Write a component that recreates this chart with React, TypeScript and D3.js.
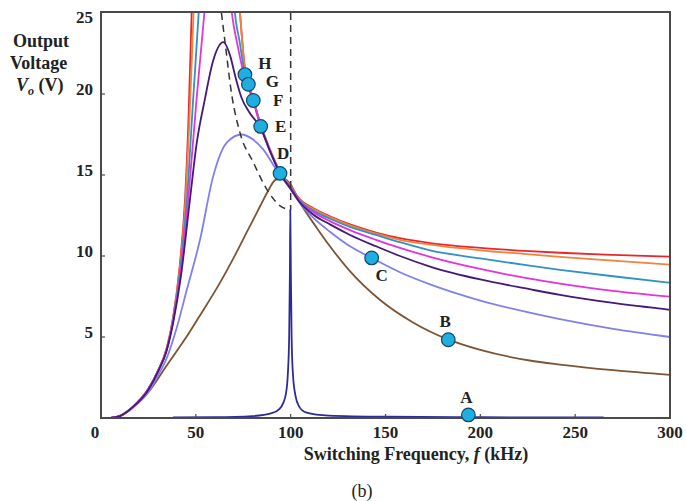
import React from "react";
import * as d3 from "d3";

// ---------- data (kHz, V) ----------
const xTicks = [0, 50, 100, 150, 200, 250, 300];
const yTicks = [5, 10, 15, 20, 25];

const curveRed: [number, number][] = [
  [5, 0], [10, 0.12], [17, 0.7], [25, 1.8], [30, 2.9], [34.6, 4.3], [38, 6.2], [41.5, 9.4], [44.3, 13.5],
  [46, 18], [47.8, 25], [51, 36], [58, 60], [66, 40], [73.3, 25], [75.9, 21.6], [77.7, 20.7], [80.3, 19.7],
  [84.2, 18.1], [89, 16.6], [94.4, 15.2], [100, 14.3], [104.9, 13.5], [112, 12.95], [120.7, 12.45],
  [131.3, 11.95], [145, 11.45], [157.6, 11.1], [173.5, 10.8], [200, 10.5], [226, 10.3], [242, 10.2],
  [270, 10.07], [300, 9.96],
];
const curveOrange: [number, number][] = [
  [5, 0], [10, 0.12], [17, 0.7], [25, 1.8], [30, 2.9], [34.6, 4.25], [38, 6.15], [41.6, 9.3], [44.6, 13.5],
  [46.5, 18], [48.8, 25], [53, 38], [60, 50], [67, 38], [73.3, 25], [75.9, 21.5], [77.7, 20.65],
  [80.3, 19.65], [84.2, 18.1], [89, 16.6], [94.4, 15.2], [100, 14.3], [104.9, 13.45], [112, 12.9],
  [120.7, 12.4], [131.3, 11.9], [145, 11.38], [157.6, 11.0], [173.5, 10.7], [200, 10.35], [226, 10.1],
  [242, 9.95], [270, 9.72], [300, 9.47],
];
const curveTeal: [number, number][] = [
  [5, 0], [10, 0.12], [17, 0.7], [25, 1.8], [30, 2.9], [34.6, 4.2], [38, 6.1], [41.8, 9.2], [45.3, 13.5],
  [48.6, 19.7], [51.5, 25], [56, 35], [62, 45], [66, 36], [70.6, 25], [73, 23.3], [75.9, 21.2],
  [77.7, 20.5], [80.3, 19.6], [84.2, 18.05], [89, 16.55], [94.4, 15.15], [100, 14.25], [104.9, 13.4],
  [112, 12.8], [120.7, 12.3], [131.3, 11.8], [145, 11.3], [157.6, 10.85], [173.5, 10.35], [200, 9.85],
  [226, 9.4], [242, 9.15], [270, 8.75], [300, 8.35],
];
const curveMagenta: [number, number][] = [
  [5, 0], [10, 0.12], [17, 0.7], [25, 1.8], [30, 2.9], [34.6, 4.2], [38, 6.0], [42, 9.0], [46, 13.5],
  [50.4, 19.7], [54.5, 25], [59, 30], [63, 32], [66, 29], [69, 25], [72, 23.0], [75.9, 21.0], [77.7, 20.4],
  [80.3, 19.5], [84.2, 18.0], [89, 16.5], [94.4, 15.1], [100, 14.2], [104.9, 13.35], [112, 12.7],
  [120.7, 12.15], [131.3, 11.6], [145, 11.0], [157.6, 10.5], [173.5, 9.95], [200, 9.2], [226, 8.6],
  [242, 8.3], [270, 7.85], [300, 7.49],
];
const curvePurple: [number, number][] = [
  [5, 0], [10, 0.12], [17, 0.7], [25, 1.75], [30, 2.85], [34.6, 4.15], [38, 5.85], [42.2, 8.8], [46.9, 13.5],
  [50.5, 17], [54.8, 19.7], [59, 22.0], [64.5, 23.2], [68, 22.4], [71, 21.0], [74, 19.8], [78, 18.9],
  [84.2, 17.9], [89, 16.5], [94.4, 15.1], [100, 14.15], [104.9, 13.3], [112, 12.55], [120.7, 11.95],
  [131.3, 11.3], [145, 10.6], [157.6, 10.0], [173.5, 9.35], [200, 8.55], [226, 7.95], [242, 7.6],
  [270, 7.1], [300, 6.68],
];
const curvePeriwinkle: [number, number][] = [
  [5, 0], [10, 0.12], [17, 0.65], [25, 1.6], [30, 2.6], [35, 3.8], [40, 5.6], [45.2, 7.9], [52.2, 11.0],
  [59.1, 14.9], [66.3, 17.0], [74.2, 17.5], [80, 17.2], [85.4, 16.6], [92.6, 15.3], [100, 14.1],
  [105, 13.25], [112, 12.35], [120.7, 11.5], [131.3, 10.6], [142.7, 9.88], [157.6, 9.0], [173.5, 8.25],
  [200, 7.25], [226, 6.5], [242, 6.1], [270, 5.5], [300, 5.0],
];
const curveBrown: [number, number][] = [
  [5, 0], [10, 0.15], [17, 0.7], [25, 1.6], [35, 3.3], [45, 5.0], [52, 6.3], [62, 8.2], [70, 9.9],
  [77, 11.5], [84, 13.1], [88, 14.0], [92, 14.7], [96, 14.8], [100, 14.4], [104.9, 13.3], [113.7, 11.75],
  [120.7, 10.6], [131, 9.1], [147, 7.3], [164.5, 5.9], [183, 4.85], [200, 4.2], [226, 3.55], [242, 3.3],
  [270, 2.95], [300, 2.66],
];
const curveNavy: [number, number][] = [
  [38, 0.04], [60, 0.05], [80, 0.12], [90, 0.3], [94, 0.55], [96, 0.9], [97.5, 1.5], [98.5, 2.7],
  [99.2, 5], [99.6, 9], [99.8, 12.85], [100.1, 9], [100.5, 5], [101.2, 2.7], [102.5, 1.4], [104.5, 0.7],
  [108, 0.35], [120, 0.15], [150, 0.08], [200, 0.05], [265, 0.03],
];
const peakLocus: [number, number][] = [
  [63.5, 25], [65.4, 23.2], [69, 19.9], [73.3, 17.6], [80.2, 15.8], [87.5, 14.1], [94.4, 13.1], [99.7, 12.85],
];
const resonanceLine: [number, number][] = [[100, 25], [100, 12.85]];

const markerLabels = ["H", "G", "F", "E", "D", "C", "B", "A"];
const markerFreq = [75.9, 77.7, 80.3, 84.2, 94.4, 142.7, 183.1, 193.7];
const markerVolt = [21.2, 20.6, 19.6, 18.0, 15.1, 9.88, 4.83, 0.19];

const seriesList = [
  { data: curveBrown, color: "#7d5433" },
  { data: curvePeriwinkle, color: "#7f7ff0" },
  { data: curveRed, color: "#e6282c" },
  { data: curveOrange, color: "#f0843e" },
  { data: curveTeal, color: "#2f92c4" },
  { data: curveMagenta, color: "#e433dc" },
  { data: curvePurple, color: "#44197a" },
  { data: curveNavy, color: "#2c2c98" },
];

// label offsets (px) relative to marker
const labelOffsets: Record<string, [number, number]> = {
  H: [20, -12], G: [24, -3], F: [25, 0], E: [20, 0], D: [3, -20], C: [10, 17], B: [-3, -19], A: [-2, -18],
};

export default function App() {
  const W = 686, H = 501;
  const x = d3.scaleLinear().domain([0, 300]).range([101, 670]);
  const y = d3.scaleLinear().domain([0, 25]).range([418, 13]);
  const line = d3.line<[number, number]>().x(d => x(d[0])).y(d => y(d[1])).curve(d3.curveMonotoneX);
  const straight = d3.line<[number, number]>().x(d => x(d[0])).y(d => y(d[1]));
  const font = "'Liberation Serif', 'Times New Roman', serif";
  const [x0, x1] = x.range();
  const [y0, y1] = y.range();

  return (
    <svg width={W} height={H} style={{ position: "absolute", left: 0, top: 0, background: "#fff" }} fontFamily={font}>
      <defs>
        <clipPath id="plotClip">
          <rect x={x0} y={y1 - 1} width={x1 - x0} height={y0 - y1 + 1} />
        </clipPath>
      </defs>
      <g clipPath="url(#plotClip)">
        {seriesList.map((s, i) => (
          <path key={i} d={line(s.data) || ""} fill="none" stroke={s.color} strokeWidth={1.8} />
        ))}
        <path d={line(peakLocus) || ""} fill="none" stroke="#333" strokeWidth={1.5} strokeDasharray="7,5" />
        <path d={straight(resonanceLine) || ""} fill="none" stroke="#333" strokeWidth={1.5} strokeDasharray="7,5" />
      </g>
      {/* frame */}
      <rect x={x0} y={y1 - 1} width={x1 - x0} height={y0 - y1 + 1} fill="none" stroke="#4a4a4a" strokeWidth={2} />
      {/* ticks */}
      {xTicks.slice(1, -1).map(t => (
        <line key={"xt" + t} x1={x(t)} x2={x(t)} y1={y0} y2={y0 - 4} stroke="#4a4a4a" strokeWidth={1.2} />
      ))}
      {yTicks.slice(0, -1).map(t => (
        <line key={"yt" + t} x1={x0} x2={x0 + 4} y1={y(t)} y2={y(t)} stroke="#4a4a4a" strokeWidth={1.2} />
      ))}
      {xTicks.map(t => (
        <text key={"xl" + t} x={x(t) - (t === 0 ? 6 : 0)} y={438} textAnchor="middle" fontSize={17} fontWeight="bold" fill="#222">{t}</text>
      ))}
      {yTicks.map(t => (
        <text key={"yl" + t} x={93} y={y(t) + (t === 25 ? 10 : 1)} textAnchor="end" fontSize={17} fontWeight="bold" fill="#222">{t}</text>
      ))}
      {/* markers */}
      {markerLabels.map((lab, i) => (
        <g key={lab}>
          <circle cx={x(markerFreq[i])} cy={y(markerVolt[i])} r={6.8} fill="#1eaee0" stroke="#15476a" strokeWidth={1.2} />
          <text x={x(markerFreq[i]) + labelOffsets[lab][0]} y={y(markerVolt[i]) + labelOffsets[lab][1] + 6}
            textAnchor="middle" fontSize={17} fontWeight="bold" fill="#222">{lab}</text>
        </g>
      ))}
      {/* y title */}
      <text x={13} y={47} fontSize={18} fontWeight="bold" fill="#222">Output</text>
      <text x={10} y={69} fontSize={18} fontWeight="bold" fill="#222">Voltage</text>
      <text x={16} y={91} fontSize={18} fontWeight="bold" fill="#222">
        <tspan fontStyle="italic">V</tspan><tspan fontSize={12} fontStyle="italic" dy={4}>o</tspan><tspan dy={-4}> (V)</tspan>
      </text>
      {/* x title */}
      <text x={416} y={460} textAnchor="middle" fontSize={18} fontWeight="bold" fill="#222">
        Switching Frequency, <tspan fontStyle="italic">f</tspan> (kHz)
      </text>
      <text x={362} y={497} textAnchor="middle" fontSize={18} fill="#222">(b)</text>
    </svg>
  );
}
